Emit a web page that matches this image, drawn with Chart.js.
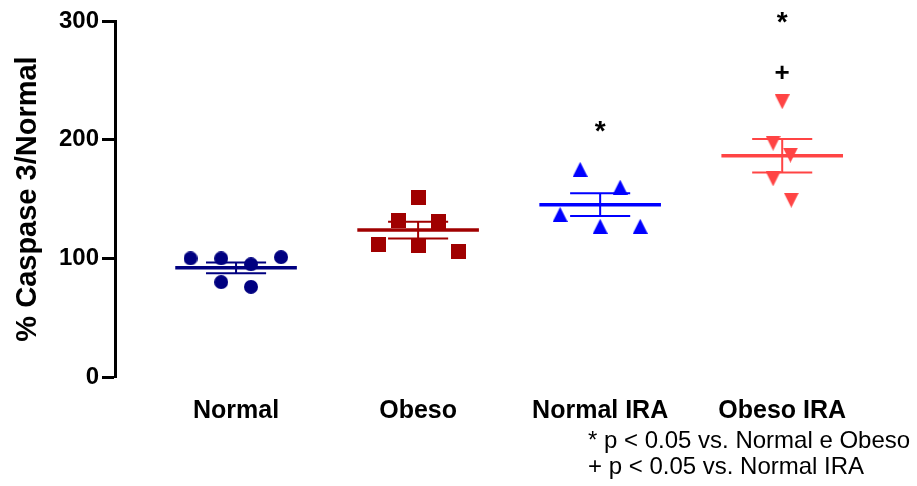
<!DOCTYPE html>
<html lang="pt">
<head>
<meta charset="UTF-8" />
<title>Caspase 3</title>
<script src="https://cdn.jsdelivr.net/npm/chart.js"></script>
<style>
  html, body { margin: 0; padding: 0; background: #fff; }
  #wrap { position: relative; width: 917px; height: 486px; }
  #note {
    position: absolute; left: 588px; top: 427px;
    font-family: "Liberation Sans", Arial, sans-serif; font-size: 24px;
    line-height: 26px; color: #000; white-space: nowrap;
  }
</style>
</head>
<body>
<div id="wrap">
  <canvas id="chart" width="917" height="486"></canvas>
  <div id="note">* p &lt; 0.05 vs. Normal e Obeso<br>+ p &lt; 0.05 vs. Normal IRA</div>
</div>
<script>
// groups and individual measurements (% caspase 3 relative to Normal)
const groups = ['Normal', 'Obeso', 'Normal IRA', 'Obeso IRA'];
const normalVals    = [100, 100, 80, 95, 76, 101];
const obesoVals     = [112, 132, 151, 111, 131, 106];
const normalIraVals = [137, 175, 127, 160, 127];
const obesoIraVals  = [197, 232, 187, 167, 149];
// horizontal scatter of the points around each group
const normalJit    = [-0.25, -0.082, -0.082, 0.082, 0.082, 0.247];
const obesoJit     = [-0.22, -0.11, 0, 0, 0.11, 0.22];
const normalIraJit = [-0.22, -0.11, 0, 0.11, 0.22];
const obesoIraJit  = [-0.05, 0, 0.045, -0.05, 0.05];
const yTicks = [0, 100, 200, 300];

const colors = ['#000080', '#A00000', '#0000FF', '#FF4444'];
const FONT = '"Liberation Sans", Arial, sans-serif';

function marker(shape, size, color) {
  const c = document.createElement('canvas');
  c.width = size; c.height = size;
  const g = c.getContext('2d');
  g.fillStyle = color;
  g.beginPath();
  if (shape === 'circle') {
    g.arc(size / 2, size / 2, size / 2, 0, Math.PI * 2);
  } else if (shape === 'square') {
    g.rect(0, 0, size, size);
  } else if (shape === 'up') {
    g.moveTo(size / 2, 0); g.lineTo(size, size); g.lineTo(0, size);
  } else {
    g.moveTo(0, 0); g.lineTo(size, 0); g.lineTo(size / 2, size);
  }
  g.closePath();
  g.fill();
  return c;
}

const series = [
  { vals: normalVals, jit: normalJit, style: marker('circle', 14, colors[0]) },
  { vals: obesoVals, jit: obesoJit, style: marker('square', 15, colors[1]) },
  { vals: normalIraVals, jit: normalIraJit, style: marker('up', 15, colors[2]) },
  { vals: obesoIraVals, jit: obesoIraJit, style: marker('down', 15, colors[3]) }
];

function stats(v) {
  const m = v.reduce((a, b) => a + b, 0) / v.length;
  const sd = Math.sqrt(v.reduce((a, b) => a + (b - m) * (b - m), 0) / (v.length - 1));
  return { mean: m, sem: sd / Math.sqrt(v.length) };
}

// significance symbols above groups
const signs = [
  { group: 3, text: '*', y: 208 },
  { group: 4, text: '*', y: 300 },
  { group: 4, text: '+', y: 256 }
];

const meanSem = {
  id: 'meanSem',
  beforeDatasetsDraw(chart) {
    const { ctx, scales: { x, y } } = chart;
    ctx.save();
    series.forEach((s, i) => {
      const st = stats(s.vals);
      const cx = i + 1;
      ctx.strokeStyle = colors[i];
      ctx.lineWidth = 3.5;
      ctx.beginPath();
      ctx.moveTo(x.getPixelForValue(cx - 0.334), y.getPixelForValue(st.mean));
      ctx.lineTo(x.getPixelForValue(cx + 0.334), y.getPixelForValue(st.mean));
      ctx.stroke();
      ctx.lineWidth = 2;
      ctx.beginPath();
      [st.mean + st.sem, st.mean - st.sem].forEach(v => {
        ctx.moveTo(x.getPixelForValue(cx - 0.165), y.getPixelForValue(v));
        ctx.lineTo(x.getPixelForValue(cx + 0.165), y.getPixelForValue(v));
      });
      ctx.moveTo(x.getPixelForValue(cx), y.getPixelForValue(st.mean + st.sem));
      ctx.lineTo(x.getPixelForValue(cx), y.getPixelForValue(st.mean - st.sem));
      ctx.stroke();
    });
    ctx.restore();
  },
  afterDatasetsDraw(chart) {
    const { ctx, scales: { x, y } } = chart;
    ctx.save();
    ctx.fillStyle = '#000';
    ctx.textAlign = 'center';
    ctx.textBaseline = 'middle';
    signs.forEach(s => {
      ctx.font = (s.text === '*' ? 'bold 28px ' : 'bold 26px ') + FONT;
      const dy = s.text === '*' ? 2 : 1;
      ctx.fillText(s.text, x.getPixelForValue(s.group), y.getPixelForValue(s.y) + dy);
    });
    ctx.restore();
  }
};

new Chart(document.getElementById('chart'), {
  type: 'scatter',
  data: {
    datasets: series.map((s, i) => ({
      label: groups[i],
      data: s.vals.map((v, j) => ({ x: i + 1 + s.jit[j], y: v })),
      pointStyle: s.style,
      backgroundColor: colors[i],
      borderColor: colors[i]
    }))
  },
  options: {
    responsive: false,
    animation: false,
    layout: { padding: { top: 21, right: 11, bottom: 0, left: 0 } },
    plugins: { legend: { display: false }, tooltip: { enabled: false } },
    scales: {
      x: {
        type: 'linear',
        min: 0.335,
        max: 4.68,
        afterBuildTicks: sc => { sc.ticks = groups.map((g, i) => ({ value: i + 1 })); },
        afterFit: sc => { sc.height = 109; },
        ticks: {
          callback: v => groups[v - 1],
          color: '#000',
          font: { family: FONT, size: 25, weight: 'bold' },
          maxRotation: 0,
          padding: 11
        },
        grid: { display: false },
        border: { display: false }
      },
      y: {
        min: 0,
        max: 300,
        afterBuildTicks: sc => { sc.ticks = yTicks.map(v => ({ value: v })); },
        afterFit: sc => { sc.width = 115; },
        ticks: {
          color: '#000',
          font: { family: FONT, size: 24, weight: 'bold' },
          padding: 3
        },
        grid: { drawOnChartArea: false, drawTicks: true, tickLength: 13, tickWidth: 3, tickColor: '#000' },
        border: { color: '#000', width: 3 },
        title: {
          display: true,
          text: '% Caspase 3/Normal',
          color: '#000',
          font: { family: FONT, size: 29, weight: 'bold' },
          padding: { top: 11, bottom: 0 }
        }
      }
    }
  },
  plugins: [meanSem]
});
</script>
</body>
</html>
